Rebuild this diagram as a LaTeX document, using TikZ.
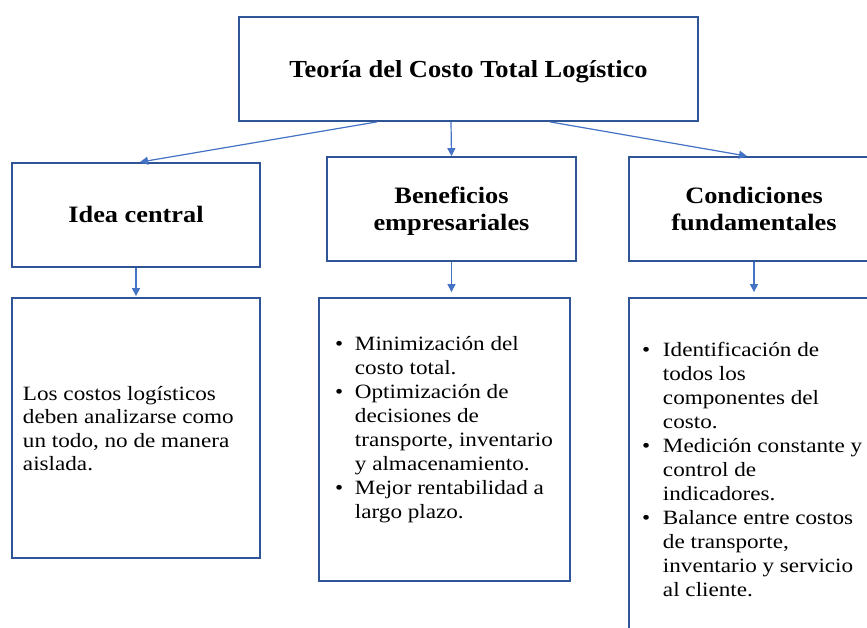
\documentclass[tikz,border=0pt]{standalone}
\usepackage{fontspec}
\setmainfont{Liberation Serif}
\usepackage{graphicx}
\usetikzlibrary{arrows.meta}
\definecolor{boxblue}{HTML}{2F5597}
\definecolor{arrowblue}{HTML}{4472C4}
\newcommand{\headfont}{\fontsize{23.5}{27}\selectfont\bfseries}
\newcommand{\bodyfont}{\fontsize{20.3}{24}\selectfont}
\newcommand{\bul}[1]{\makebox[#1][l]{\textbullet}}
\begin{document}
\begin{tikzpicture}[x=1pt,y=-1pt,
  boxnode/.style 2 args={draw=boxblue,line width=1.8pt,rectangle,inner sep=0pt,minimum width=#1,minimum height=#2},
  txt/.style={inner sep=0pt,outer sep=0pt},
  conn/.style={draw=arrowblue,line width=1.2pt,-{Triangle[length=8pt,width=8pt]}}]
\useasboundingbox (0,0) rectangle (867,628);
\clip (0,0) rectangle (867,628);
\fill[white] (0,0) rectangle (867,628);

% boxes
\node[boxnode={459pt}{104pt}] (top) at (468.5,69) {};
\node[boxnode={248pt}{104pt}] (idea) at (136,215) {};
\node[boxnode={249pt}{104pt}] (benef) at (451.5,209) {};
\node[boxnode={250pt}{104pt}] (cond) at (754,209) {};
\node[boxnode={248pt}{260pt}] (idealow) at (136,428) {};
\node[boxnode={251pt}{283pt}] (beneflow) at (444.5,439.5) {};
\node[boxnode={250pt}{362pt}] (condlow) at (754,479) {};

% headings
\node[txt,anchor=base] (ttop) at (468.5,78)
  {\scalebox{1.08}[1]{\fontsize{24.5}{28}\selectfont\bfseries Teoría del Costo Total Logístico}};
\node[txt,anchor=base] (tidea) at (136,223)
  {\scalebox{1.12}[1]{\headfont Idea central}};
\node[txt,anchor=base] (tbenef) at (451.5,204)
  {\scalebox{1.12}[1]{\headfont\begin{tabular}[t]{@{}c@{}}Beneficios\\empresariales\end{tabular}}};
\node[txt,anchor=base] (tcond) at (754,204)
  {\scalebox{1.12}[1]{\headfont\begin{tabular}[t]{@{}c@{}}Condiciones\\fundamentales\end{tabular}}};

% body texts
\node[txt,anchor=base west] (tidealow) at (23,400)
  {\scalebox{1.14}[1]{\fontsize{20.3}{23.5}\selectfont\begin{tabular}[t]{@{}l@{}}Los costos logísticos\\deben analizarse como\\un todo, no de manera\\aislada.\end{tabular}}};
\node[txt,anchor=base west] (tbeneflow) at (335,350)
  {\scalebox{1.14}[1]{\bodyfont\begin{tabular}[t]{@{}l@{}}\bul{17.5pt}Minimización del\\
  \hspace*{17.5pt}costo total.\\
  \bul{17.5pt}Optimización de\\
  \hspace*{17.5pt}decisiones de\\
  \hspace*{17.5pt}transporte, inventario\\
  \hspace*{17.5pt}y almacenamiento.\\
  \bul{17.5pt}Mejor rentabilidad a\\
  \hspace*{17.5pt}largo plazo.\end{tabular}}};
\node[txt,anchor=base west] (tcondlow) at (642,356)
  {\scalebox{1.14}[1]{\bodyfont\begin{tabular}[t]{@{}l@{}}\bul{18.4pt}Identificación de\\
  \hspace*{18.4pt}todos los\\
  \hspace*{18.4pt}componentes del\\
  \hspace*{18.4pt}costo.\\
  \bul{18.4pt}Medición constante y\\
  \hspace*{18.4pt}control de\\
  \hspace*{18.4pt}indicadores.\\
  \bul{18.4pt}Balance entre costos\\
  \hspace*{18.4pt}de transporte,\\
  \hspace*{18.4pt}inventario y servicio\\
  \hspace*{18.4pt}al cliente.\end{tabular}}};

% connectors
\draw[conn] ([xshift=-91.5pt]top.south) -- ([xshift=4pt]idea.north);
\draw[conn] ([xshift=-17.5pt]top.south) -- (benef.north);
\draw[conn] ([xshift=81.5pt]top.south) -- ([xshift=-7pt]cond.north);
\draw[conn,shorten >=1pt] (idea.south) -- (idea.south |- idealow.north);
\draw[conn,shorten >=5pt] (benef.south) -- (benef.south |- beneflow.north);
\draw[conn,shorten >=5pt] (cond.south) -- (cond.south |- condlow.north);
\end{tikzpicture}
\end{document}
